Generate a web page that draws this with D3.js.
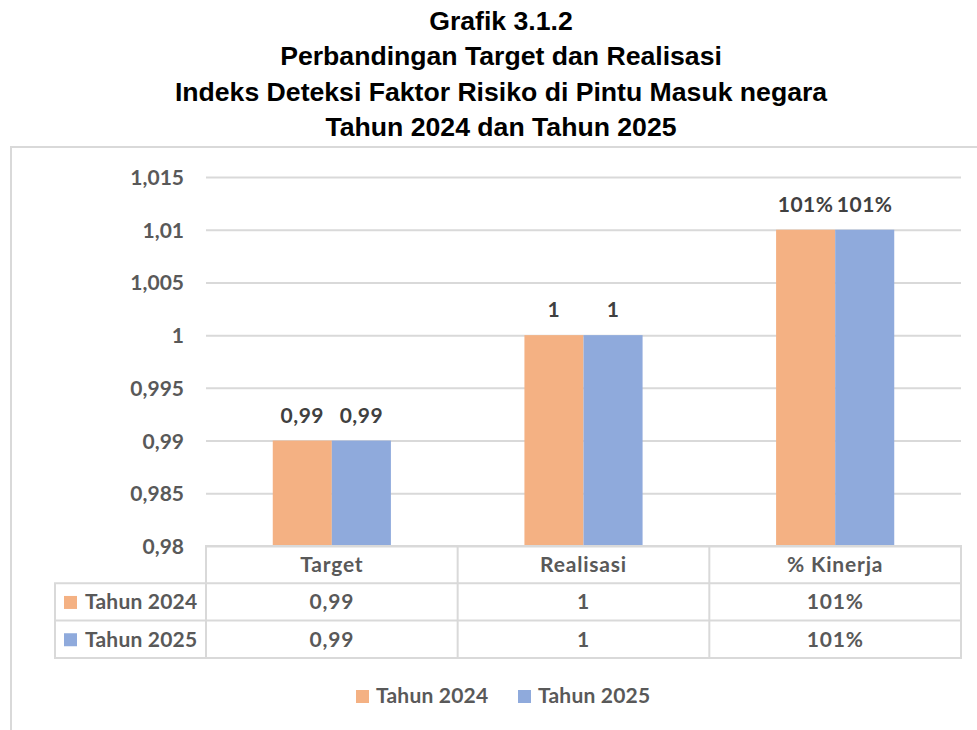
<!DOCTYPE html>
<html>
<head>
<meta charset="utf-8">
<script src="https://cdn.jsdelivr.net/npm/d3@7"></script>
<style>
  body { margin: 0; background: #fff; }
  svg { display: block; }
  .ttl { font-family: "Liberation Sans", Arial, sans-serif; font-weight: bold; font-size: 25px; fill: #000; }
  .lbl { font-family: Lato, "Open Sans", sans-serif; font-weight: bold; fill: #595959; font-size: 21px; }
</style>
</head>
<body>
<svg id="chart" width="977" height="730"></svg>
<script>
// data
var categories = ['Target', 'Realisasi', '% Kinerja'];
var seriesNames = ['Tahun 2024', 'Tahun 2025'];
var values2024 = [0.99, 1, 1.01];
var values2025 = [0.99, 1, 1.01];
var labels2024 = ['0,99', '1', '101%'];
var labels2025 = ['0,99', '1', '101%'];
var yTicks = [0.98, 0.985, 0.99, 0.995, 1, 1.005, 1.01, 1.015];
var titleLines = [
  'Grafik 3.1.2',
  'Perbandingan Target dan Realisasi',
  'Indeks Deteksi Faktor Risiko di Pintu Masuk negara',
  'Tahun 2024 dan Tahun 2025'
];

var colors = ['#F4B183', '#8FAADC'];
var gridColor = '#d9d9d9';

var svg = d3.select('#chart');

// title (the source font is a little wider than Liberation Sans)
svg.selectAll('text.ttl')
    .data(titleLines)
  .enter().append('text')
    .attr('class', 'ttl')
    .attr('transform', function(d, i) {
      return 'translate(501,' + (30 + i * 35.4) + ') scale(1.065,1)';
    })
    .attr('text-anchor', 'middle')
    .text(String);

// chart frame (runs off the right and bottom of the picture)
svg.append('path')
    .attr('d', 'M11 740 V147 H990')
    .attr('fill', 'none')
    .attr('stroke', gridColor)
    .attr('stroke-width', 2);

var plot = {left: 206, right: 961, top: 177, bottom: 546};

var x = d3.scaleBand()
    .domain(categories)
    .range([plot.left, plot.right])
    .padding(0);

// two bars of ~59px centred in each 251px category
var xs = d3.scaleBand()
    .domain(seriesNames)
    .range([0, x.bandwidth()])
    .paddingInner(0)
    .paddingOuter(1.13);

var y = d3.scaleLinear()
    .domain([0.98, 1.015])
    .range([plot.bottom, plot.top]);

// gridlines
svg.append('g')
    .attr('transform', 'translate(' + plot.left + ',0)')
    .call(d3.axisLeft(y)
      .tickValues(yTicks)
      .tickSize(-(plot.right - plot.left))
      .tickFormat(''))
    .call(function(g) {
      g.select('.domain').remove();
      g.selectAll('.tick line').attr('stroke', gridColor).attr('stroke-width', 2);
    });

// y tick labels
svg.append('g')
    .attr('transform', 'translate(184,0)')
    .call(d3.axisLeft(y)
      .tickValues(yTicks)
      .tickSize(0)
      .tickPadding(0)
      .tickFormat(function(d) { return String(+d.toFixed(3)).replace('.', ','); }))
    .call(function(g) {
      g.select('.domain').remove();
      g.selectAll('text')
        .attr('class', 'lbl')
        .attr('fill', null)
        .attr('font-family', null)
        .attr('font-size', null)
        .attr('dy', '0.36em');
    });

var series = [
  {name: seriesNames[0], values: values2024, labels: labels2024, color: colors[0]},
  {name: seriesNames[1], values: values2025, labels: labels2025, color: colors[1]}
];

function cells(s) {
  return categories.map(function(c, i) {
    return {cat: c, value: s.values[i], label: s.labels[i], name: s.name, color: s.color};
  });
}

// bars
var groups = svg.selectAll('g.series')
    .data(series)
  .enter().append('g')
    .attr('class', 'series');

groups.selectAll('rect')
    .data(cells)
  .enter().append('rect')
    .attr('x', function(d) { return x(d.cat) + xs(d.name); })
    .attr('width', xs.bandwidth())
    .attr('y', function(d) { return y(d.value); })
    .attr('height', function(d) { return y(0.98) - y(d.value); })
    .attr('fill', function(d) { return d.color; });

groups.selectAll('text')
    .data(cells)
  .enter().append('text')
    .attr('class', 'lbl')
    .attr('x', function(d) { return x(d.cat) + xs(d.name) + xs.bandwidth() / 2; })
    .attr('y', function(d) { return y(d.value) - 18; })
    .attr('text-anchor', 'middle')
    .style('letter-spacing', '0.5px')
    .style('fill', '#404040')
    .text(function(d) { return d.label; });

// data table
var rowH = 37.3;
var tableLeft = 55;
var table = svg.append('g').attr('class', 'table');
var headTop = plot.bottom, row1Top = headTop + rowH, row2Top = row1Top + rowH, tableBottom = row2Top + rowH;

function hline(x1, x2, yy) {
  table.append('line').attr('x1', x1).attr('x2', x2).attr('y1', yy).attr('y2', yy)
      .attr('stroke', gridColor).attr('stroke-width', 2);
}
function vline(xx, y1, y2) {
  table.append('line').attr('x1', xx).attr('x2', xx).attr('y1', y1).attr('y2', y2)
      .attr('stroke', gridColor).attr('stroke-width', 2);
}

hline(plot.left - 1, plot.right + 1, headTop);
hline(tableLeft - 1, plot.right + 1, row1Top);
hline(tableLeft - 1, plot.right + 1, row2Top);
hline(tableLeft - 1, plot.right + 1, tableBottom);
vline(tableLeft, row1Top, tableBottom);
categories.forEach(function(c) { vline(x(c), headTop, tableBottom); });
vline(plot.right, headTop, tableBottom);

table.selectAll('text.head')
    .data(categories)
  .enter().append('text')
    .attr('class', 'lbl head')
    .attr('x', function(d) { return x(d) + x.bandwidth() / 2; })
    .attr('y', headTop + rowH / 2 + 7.5)
    .attr('text-anchor', 'middle')
    .style('letter-spacing', '0.8px')
    .text(String);

series.forEach(function(s, si) {
  var top = row1Top + si * rowH;
  table.append('rect')
      .attr('x', 64).attr('y', top + rowH / 2 - 6)
      .attr('width', 13).attr('height', 13)
      .attr('fill', s.color);
  table.append('text')
      .attr('class', 'lbl')
      .attr('x', 85)
      .attr('y', top + rowH / 2 + 7.5)
      .style('letter-spacing', '0.2px')
      .text(s.name);
  table.selectAll('text.cell' + si)
      .data(categories)
    .enter().append('text')
      .attr('class', 'lbl cell' + si)
      .attr('x', function(d) { return x(d) + x.bandwidth() / 2; })
      .attr('y', top + rowH / 2 + 7.5)
      .attr('text-anchor', 'middle')
      .style('letter-spacing', '0.8px')
      .text(function(d, i) { return s.labels[i]; });
});

// legend
var legend = svg.append('g').attr('class', 'legend');
var legendX = [356, 518];
series.forEach(function(s, i) {
  legend.append('rect')
      .attr('x', legendX[i]).attr('y', 690)
      .attr('width', 13).attr('height', 13)
      .attr('fill', s.color);
  legend.append('text')
      .attr('class', 'lbl')
      .attr('x', legendX[i] + 20)
      .attr('y', 703)
      .style('letter-spacing', '0.2px')
      .text(s.name);
});
</script>
</body>
</html>
